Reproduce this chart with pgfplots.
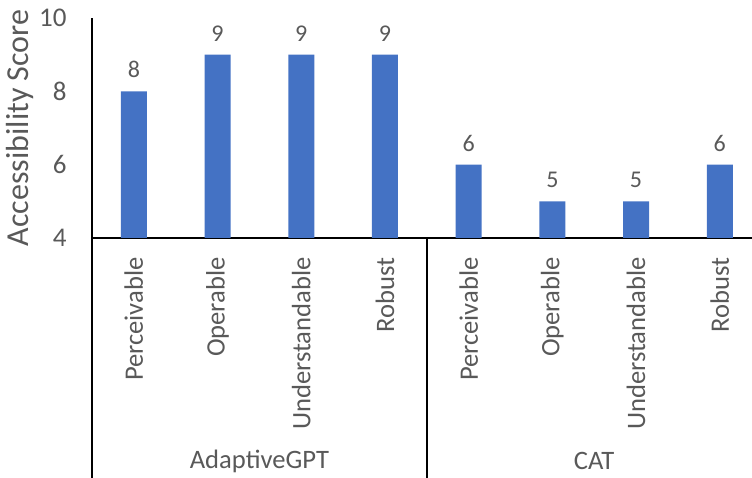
\documentclass[border=0pt]{standalone}
\usepackage{fontspec}
\setmainfont{Carlito}
\usepackage{pgfplots}
\pgfplotsset{compat=1.18}
\definecolor{barblue}{HTML}{4472C4}
\definecolor{txtgray}{HTML}{595959}
\begin{document}
\begin{tikzpicture}
\begin{axis}[
  scale only axis,
  width=330pt, height=110pt,
  xmin=-0.5, xmax=7.385,
  ymin=4, ymax=10,
  ytick={4,6,8,10},
  xtick={0,1,2,3,4,5,6,7},
  xticklabels={Perceivable,Operable,Understandable,Robust,Perceivable,Operable,Understandable,Robust},
  axis lines*=left,
  axis line style={line width=0.8pt, black},
  major tick length=0pt,
  /pgf/number format/assume math mode=true,
  xticklabel style={yshift=-9.5pt, rotate=90, anchor=east, inner sep=0pt, font=\fontsize{13.3pt}{15pt}\selectfont, text=txtgray},
  yticklabel style={anchor=east, inner sep=0pt, xshift=-12.5pt, font=\fontsize{13.5pt}{15pt}\selectfont, text=txtgray},
  ylabel={Accessibility Score},
  every axis y label/.style={at={(rel axis cs:0,0.5)}, xshift=-36pt, rotate=90, anchor=center, font=\fontsize{16pt}{18pt}\selectfont, text=txtgray},
  ybar, bar width=13pt,
  nodes near coords,
  every node near coord/.append style={anchor=south, inner sep=0pt, yshift=6.5pt, font=\fontsize{12pt}{14pt}\selectfont, text=txtgray},
  clip=false,
]
\addplot[fill=barblue, draw=none] coordinates {(0,8) (1,9) (2,9) (3,9) (4,6) (5,5) (6,5) (7,6)};
\coordinate (BL) at (rel axis cs:0,0);
\coordinate (TR) at (rel axis cs:1,1);
\coordinate (SEP) at (axis cs:3.5,4);
\coordinate (G1) at (axis cs:1.5,4);
\coordinate (G2) at (axis cs:5.5,4);
\end{axis}
\draw[line width=0.8pt, black] (BL) -- ([yshift=-120pt]BL);
\draw[line width=0.8pt, black] (SEP) -- ([yshift=-120pt]SEP);
\node[text=txtgray, font=\fontsize{13.3pt}{15pt}\selectfont] at ([yshift=-111.5pt]G1) {AdaptiveGPT};
\node[text=txtgray, font=\fontsize{13.3pt}{15pt}\selectfont] at ([yshift=-111.5pt]G2) {CAT};
\pgfresetboundingbox
\path ([xshift=-46pt,yshift=-120pt]BL) rectangle ([yshift=9pt]TR);
\end{tikzpicture}
\end{document}
